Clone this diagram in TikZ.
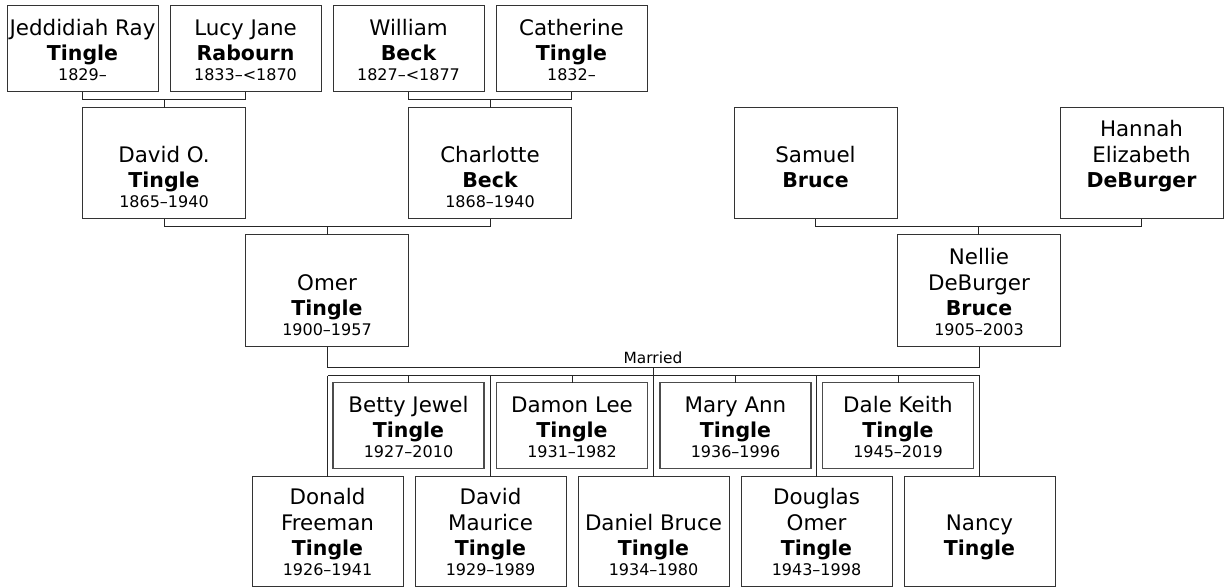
\documentclass[tikz,border=0pt]{standalone}
\usepackage{fontspec}
\setmainfont{DejaVu Sans}
\usetikzlibrary{calc}
\tikzset{
  pbox/.style={draw=black!80, line width=1pt, inner sep=0pt, outer sep=0pt, fill=white},
  cbox/.style={draw=black!70, line width=1.8pt, inner sep=0pt, outer sep=0pt, fill=white},
  conn/.style={draw=black!85, line width=1pt},
  nmtext/.style={anchor=base, inner sep=0pt, font=\fontsize{21.4}{24}\selectfont},
  sntext/.style={anchor=base, inner sep=0pt, font=\fontsize{20.5}{24}\selectfont\bfseries},
  dttext/.style={anchor=base, inner sep=0pt, font=\fontsize{16}{19}\selectfont},
  mtext/.style={anchor=base, inner sep=0pt, font=\fontsize{15.4}{18}\selectfont},
}
% #1 style, #2 name, #3 cx, #4 top y, #5 w, #6 h, #7 name lines (bottom first), #8 surname, #9 date
\newcommand\famperson[9]{%
  \node[#1, minimum width=#5pt, minimum height=#6pt] (#2) at (#3, {-(#4)-(#6)/2}) {};
  \node[dttext] (#2-d) at ([yshift=11pt]#2.south) {#9};
  \node[sntext] (#2-s) at ([yshift=31pt]#2.south) {#8};
  \foreach \t [count=\i] in {#7} {\node[nmtext] (#2-n\i) at ([yshift={56.5pt+26pt*(\i-1)}]#2.south) {\t};}
}
\begin{document}
\begin{tikzpicture}[x=1pt,y=1pt]
\fill[white] (0,0) rectangle (1226,-587);
\useasboundingbox (0,0) rectangle (1226,-587);

% generation 1
\famperson{pbox}{jed}{82.5}{5.5}{151}{86}{Jeddidiah Ray}{Tingle}{1829–}
\famperson{pbox}{lucy}{245.5}{5.5}{151}{86}{Lucy Jane}{Rabourn}{1833–<1870}
\famperson{pbox}{william}{408.5}{5.5}{151}{86}{William}{Beck}{1827–<1877}
\famperson{pbox}{cath}{571.5}{5.5}{151}{86}{Catherine}{Tingle}{1832–}

% generation 2
\famperson{pbox}{davido}{164}{107.5}{163}{111}{David O.}{Tingle}{1865–1940}
\famperson{pbox}{charl}{490}{107.5}{163}{111}{Charlotte}{Beck}{1868–1940}
\famperson{pbox}{samuel}{815.5}{107.5}{163}{111}{Samuel}{Bruce}{}
\famperson{pbox}{hannah}{1141.5}{107.5}{163}{111}{Elizabeth,Hannah}{DeBurger}{}

% generation 3
\famperson{pbox}{omer}{327}{234.5}{163}{112}{Omer}{Tingle}{1900–1957}
\famperson{pbox}{nellie}{979}{234.5}{163}{112}{DeBurger,Nellie}{Bruce}{1905–2003}

% children, upper row
\famperson{cbox}{betty}{408.5}{382.5}{151}{86}{Betty Jewel}{Tingle}{1927–2010}
\famperson{cbox}{damon}{572}{382.5}{151}{86}{Damon Lee}{Tingle}{1931–1982}
\famperson{cbox}{mary}{735.5}{382.5}{151}{86}{Mary Ann}{Tingle}{1936–1996}
\famperson{cbox}{dale}{898}{382.5}{151}{86}{Dale Keith}{Tingle}{1945–2019}

% children, lower row
\famperson{pbox}{donald}{327.5}{476.5}{151}{110}{Freeman,Donald}{Tingle}{1926–1941}
\famperson{pbox}{davidm}{490.5}{476.5}{151}{110}{Maurice,David}{Tingle}{1929–1989}
\famperson{pbox}{daniel}{653.5}{476.5}{151}{110}{Daniel Bruce}{Tingle}{1934–1980}
\famperson{pbox}{douglas}{816.5}{476.5}{151}{110}{Omer,Douglas}{Tingle}{1943–1998}
\famperson{pbox}{nancy}{979.5}{476.5}{151}{110}{Nancy}{Tingle}{}

% parent connectors
\coordinate (g1) at ($(jed.south)!.5!(lucy.south)+(0,-8)$);
\draw[conn] (jed.south) |- (g1) -| (lucy.south);
\draw[conn] (g1) -- (g1 |- davido.north);
\coordinate (g2) at ($(william.south)!.5!(cath.south)+(0,-8)$);
\draw[conn] (william.south) |- (g2) -| (cath.south);
\draw[conn] (g2) -- (g2 |- charl.north);
\coordinate (g3) at ($(davido.south)!.5!(charl.south)+(0,-8)$);
\draw[conn] (davido.south) |- (g3) -| (charl.south);
\draw[conn] (g3) -- (g3 |- omer.north);
\coordinate (g4) at ($(samuel.south)!.5!(hannah.south)+(0,-8)$);
\draw[conn] (samuel.south) |- (g4) -| (hannah.south);
\draw[conn] (g4) -- (g4 |- nellie.north);

% marriage and children
\coordinate (mar) at ($(omer.south)!.5!(nellie.south)+(0,-21)$);
\draw[conn] (omer.south) |- (mar) -| (nellie.south);
\node[mtext] (marl) at ([yshift=4.5pt]mar) {Married};
\coordinate (sib) at ($(mar)+(0,-8)$);
\draw[conn] (mar) -- (sib);
\draw[conn] (donald.north |- sib) -- (nancy.north |- sib);
\foreach \c in {betty,damon,mary,dale,donald,davidm,daniel,douglas,nancy}
  \draw[conn] (\c.north) -- (\c.north |- sib);
\end{tikzpicture}
\end{document}
